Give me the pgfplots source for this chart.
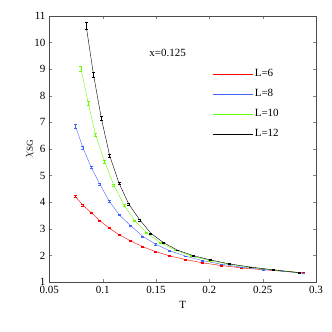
\documentclass[border=0pt]{standalone}
\usepackage{pgfplots}
\pgfplotsset{compat=1.18}
\usepackage{fontspec}
\setmainfont{Liberation Serif}
\definecolor{mred}{rgb}{1,0,0}
\definecolor{mblue}{rgb}{0.25,0.4,1}
\definecolor{mgreen}{rgb}{0.4,1,0}
\begin{document}
\fontsize{11}{13}\selectfont
\begin{tikzpicture}
\path[use as bounding box] (-49.3pt,-50pt) rectangle (282.7pt,282pt);
\begin{axis}[
  at={(0,0)}, anchor=south west,
  scale only axis,
  width=266.7pt, height=266pt,
  xmin=0.05, xmax=0.3, ymin=1, ymax=11,
  xtick={0.05,0.1,...,0.3},
  ytick={1,2,...,11},
  xticklabels={0.05,0.1,0.15,0.2,0.25,0.3},
  tick align=inside,
  major tick length=3pt,
  axis line style={black!70},
  /pgf/number format/assume math mode=true,
  ticklabel style={font=\fontsize{11}{13}\selectfont},
  xlabel={T},
  ylabel={$\chi_{\mathrm{SG}}$},
  label style={font=\fontsize{11}{13}\selectfont},
  xlabel style={at={(axis description cs:0.5,0)}, anchor=north, yshift=-15pt},
  ylabel style={at={(axis description cs:0,0.5)}, anchor=south, yshift=12pt,
    font=\fontsize{13}{15}\selectfont},
  legend style={draw=none, fill=none, at={(0.6,0.815)}, anchor=north west,
    row sep=7pt, font=\fontsize{11}{13}\selectfont},
  legend cell align=left,
  legend image code/.code={\draw[#1, line width=0.3pt] (0pt,0pt) -- (40pt,0pt);},
  error bars/y dir=both, error bars/y explicit,
  error bars/error mark options={rotate=90, mark size=1.5pt},
]
\addplot[mred, mark=none, error bars/.cd, error bar style={mred}] coordinates {
(0.0745,4.21) +- (0,0.04) (0.0814,3.89) +- (0,0.03) (0.0893,3.61) +- (0,0.03)
(0.0975,3.30) +- (0,0.03) (0.106,3.03) +- (0,0.02) (0.1154,2.78) +- (0,0.02)
(0.1264,2.54) +- (0,0.02) (0.1375,2.33) +- (0,0.02) (0.1497,2.14) +- (0,0.01)
(0.163,1.98) +- (0,0.01) (0.178,1.84) +- (0,0.01) (0.194,1.72) +- (0,0.01)
(0.211,1.62) +- (0,0.01) (0.230,1.53) +- (0,0.01) (0.251,1.46) +- (0,0.01)
(0.27,1.40) +- (0,0.01) (0.288,1.34) +- (0,0.01)};
\addlegendentry{L=6}
\addplot[mblue, mark=none, error bars/.cd, error bar style={mblue}] coordinates {
(0.0745,6.86) +- (0,0.07) (0.0814,6.06) +- (0,0.06) (0.0893,5.31) +- (0,0.05)
(0.0975,4.67) +- (0,0.04) (0.106,4.05) +- (0,0.04) (0.1154,3.53) +- (0,0.03)
(0.1264,3.11) +- (0,0.03) (0.1375,2.72) +- (0,0.02) (0.1497,2.42) +- (0,0.02)
(0.163,2.17) +- (0,0.01) (0.178,1.97) +- (0,0.01) (0.194,1.80) +- (0,0.01)
(0.211,1.67) +- (0,0.01) (0.230,1.56) +- (0,0.01) (0.251,1.47) +- (0,0.01)
(0.27,1.40) +- (0,0.01) (0.288,1.33) +- (0,0.01)};
\addlegendentry{L=8}
\addplot[mgreen, mark=none, error bars/.cd, error bar style={mgreen}] coordinates {
(0.0796,9.03) +- (0,0.09) (0.0865,7.72) +- (0,0.07) (0.0934,6.53) +- (0,0.06)
(0.1019,5.52) +- (0,0.05) (0.1104,4.65) +- (0,0.04) (0.1201,3.89) +- (0,0.03)
(0.1302,3.30) +- (0,0.03) (0.1412,2.85) +- (0,0.02) (0.154,2.48) +- (0,0.02)
(0.168,2.20) +- (0,0.01) (0.183,1.98) +- (0,0.01) (0.2,1.81) +- (0,0.01)
(0.218,1.67) +- (0,0.01) (0.238,1.55) +- (0,0.01) (0.26,1.45) +- (0,0.01)
(0.285,1.35) +- (0,0.01)};
\addlegendentry{L=10}
\addplot[black, mark=none, error bars/.cd, error bar style={black}] coordinates {
(0.0846,10.62) +- (0,0.13) (0.0915,8.78) +- (0,0.09) (0.0988,7.15) +- (0,0.07)
(0.1066,5.75) +- (0,0.06) (0.1154,4.71) +- (0,0.05) (0.1245,3.93) +- (0,0.04)
(0.1349,3.33) +- (0,0.03) (0.1453,2.83) +- (0,0.02) (0.157,2.48) +- (0,0.02)
(0.170,2.20) +- (0,0.01) (0.185,1.99) +- (0,0.01) (0.201,1.83) +- (0,0.01)
(0.219,1.68) +- (0,0.01) (0.239,1.56) +- (0,0.01) (0.26,1.46) +- (0,0.01)
(0.285,1.35) +- (0,0.01)};
\addlegendentry{L=12}
\node at (axis cs:0.161,9.6) {x=0.125};
\end{axis}
\end{tikzpicture}
\end{document}
